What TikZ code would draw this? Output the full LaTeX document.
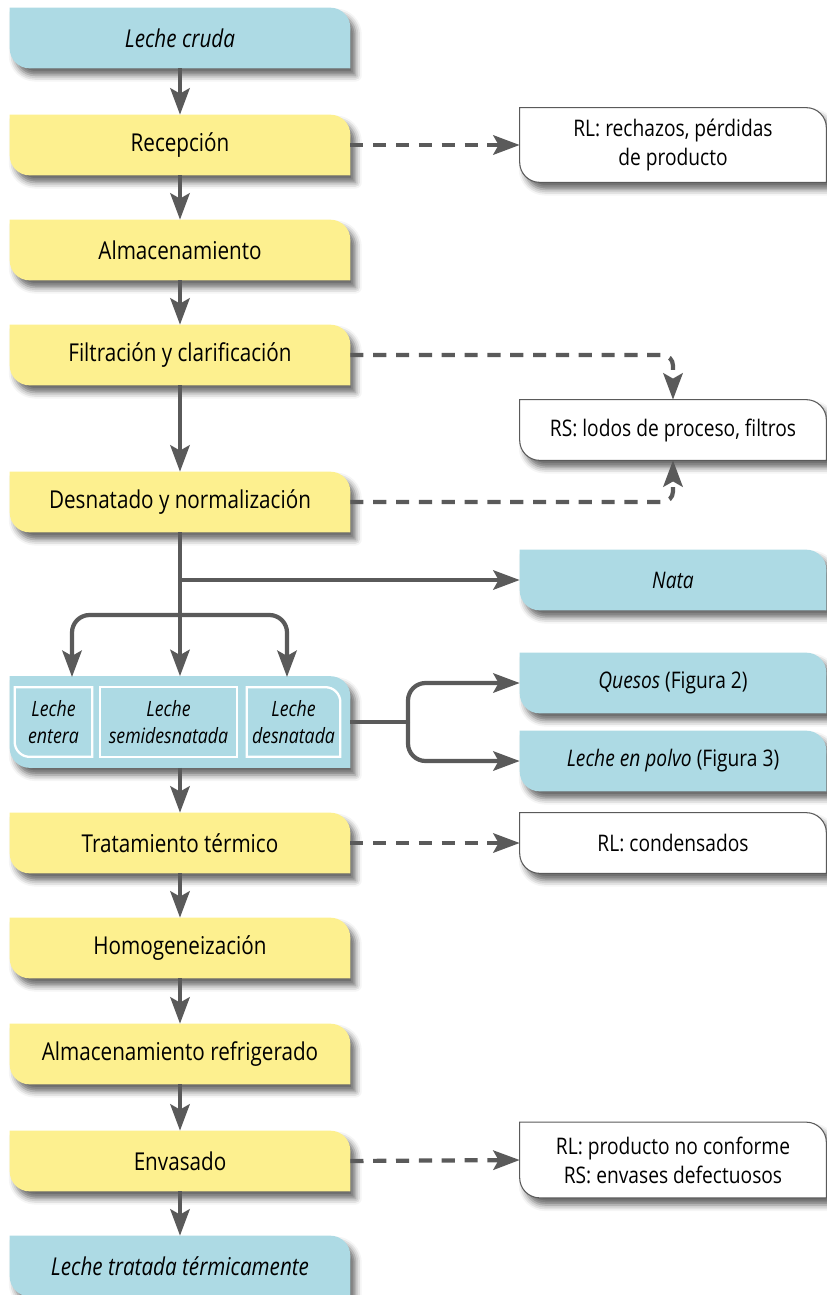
\documentclass[tikz,border=0pt]{standalone}
\usepackage{fontspec}
\setmainfont{Open Sans}[FakeStretch=0.84]
\usetikzlibrary{positioning,arrows.meta,shadows.blur,backgrounds,calc}

\definecolor{milkblue}{RGB}{173,218,228}
\definecolor{stageyellow}{RGB}{253,240,143}
\definecolor{linegray}{RGB}{90,90,90}

% box with rounded top right and bottom left corner, drawn behind node #1
\newcommand\leaf[3]{%
  \path[#2] (#1.north west) -- ($(#1.north east)+(-#3,0)$)
    arc[start angle=90,end angle=0,radius=#3] -- (#1.south east)
    -- ($(#1.south west)+(#3,0)$) arc[start angle=270,end angle=180,radius=#3] -- cycle;}

\tikzset{
  stagebox/.style={minimum width=6.8cm, minimum height=1.2cm, inner sep=0pt, align=center,
    font=\fontsize{14}{16.5}\selectfont},
  outbox/.style={stagebox, minimum width=6.12cm, font=\fontsize{13}{16.5}\selectfont},
  subbox/.style={inner sep=0pt, align=center, minimum height=1.38cm,
    font=\fontsize{12}{15}\selectfont\itshape},
  shade/.style={blur shadow={shadow xshift=3pt, shadow yshift=-4pt, shadow blur radius=3.5pt, shadow opacity=60}},
  stagefill/.style={fill=stageyellow, shade},
  milkfill/.style={fill=milkblue, shade},
  wastefill/.style={fill=white, draw=linegray, line width=0.6pt, shade},
  subfill/.style={draw=white, line width=1.3pt},
  flowline/.style={draw=linegray, line width=2.4pt},
  flow/.style={flowline, -{Stealth[length=15pt, width=11pt, inset=3pt]}},
  loss/.style={flow, dash pattern=on 7.5pt off 5.5pt},
}

\begin{document}
\begin{tikzpicture}[x=0.02cm, y=0.02cm]
\useasboundingbox (0,0) rectangle (826,-1295);

% main line
\node[stagebox] (cruda) at (180,-38) {\textit{Leche cruda}};
\node[stagebox] (recep) at (180,-145) {Recepción};
\node[stagebox] (almac) at (180,-250) {Almacenamiento};
\node[stagebox] (filtr) at (180,-355) {Filtración y clarificación};
\node[stagebox] (desn) at (180,-502) {Desnatado y normalización};
\node[stagebox, minimum height=1.82cm] (mix) at (180,-722) {};
\node[subbox, minimum width=1.54cm] (entera) at (53.5,-722) {Leche\\entera};
\node[subbox, minimum width=2.74cm] (semi) at (168.5,-722) {Leche\\semidesnatada};
\node[subbox, minimum width=1.86cm] (desnat) at (293.5,-722) {Leche\\desnatada};
\node[stagebox] (trat) at (180,-843) {Tratamiento térmico};
\node[stagebox] (homog) at (180,-948) {Homogeneización};
\node[stagebox] (refrig) at (180,-1054) {Almacenamiento refrigerado};
\node[stagebox] (envas) at (180,-1161) {Envasado};
\node[stagebox] (tratada) at (180,-1266) {\textit{Leche tratada térmicamente}};

% outputs
\node[outbox, minimum height=1.48cm] (rl1) at (673,-145) {RL: rechazos, pérdidas\\de producto};
\node[outbox] (rs) at (673,-430) {RS: lodos de proceso, filtros};
\node[outbox] (nata) at (673,-580) {\textit{Nata}};
\node[outbox] (quesos) at (673,-683) {\textit{Quesos} (Figura 2)};
\node[outbox] (polvo) at (673,-761) {\textit{Leche en polvo} (Figura 3)};
\node[outbox] (rl2) at (673,-843) {RL: condensados};
\node[outbox, minimum height=1.5cm] (rl3) at (673,-1160) {RL: producto no conforme\\RS: envases defectuosos};

\begin{pgfonlayer}{background}
  \foreach \n in {recep,almac,filtr,desn,trat,homog,refrig,envas}
    \leaf{\n}{stagefill}{20};
  \foreach \n in {cruda,mix,tratada,nata,quesos,polvo}
    \leaf{\n}{milkfill}{20};
  \foreach \n in {rl1,rs,rl2,rl3}
    \leaf{\n}{wastefill}{20};
  \path[subfill] (semi.north west) rectangle (semi.south east);
  \path[subfill] (entera.south east) -- (entera.north east) -- (entera.north west)
    -- ($(entera.south west)+(0,15)$) arc[start angle=180,end angle=270,radius=15] -- cycle;
  \path[subfill] (desnat.south east) -- ($(desnat.north east)+(0,-15)$)
    arc[start angle=0,end angle=90,radius=15] -- (desnat.north west) -- (desnat.south west) -- cycle;
\end{pgfonlayer}

% connectors
\foreach \a/\b in {cruda/recep,recep/almac,almac/filtr,filtr/desn,desn/mix,mix/trat,trat/homog,homog/refrig,refrig/envas,envas/tratada}
  \draw[flow] (\a) -- (\b);

\coordinate (skim) at (desn.south |- nata.west);
\coordinate (fan) at (180,-615);
\coordinate (inL) at (72,-677);
\coordinate (inR) at (287,-677);
\coordinate (split) at (408,-722);

\draw[flow] (skim) -- (nata.west);
\draw[flow, rounded corners=10pt] (fan) -| (inL);
\draw[flow, rounded corners=10pt] (fan) -| (inR);
\draw[flowline] (mix.east) -- (split);
\draw[flow, rounded corners=10pt] (split) |- (quesos.west);
\draw[flow, rounded corners=10pt] (split) |- (polvo.west);

\draw[loss] (recep.east) -- (rl1.west);
\draw[loss, rounded corners=6pt] (filtr.east) -| (rs.north);
\draw[loss, rounded corners=6pt] (desn.east) -| (rs.south);
\draw[loss] (trat.east) -- (rl2.west);
\draw[loss] (envas.east) -- (rl3.west);
\end{tikzpicture}
\end{document}
